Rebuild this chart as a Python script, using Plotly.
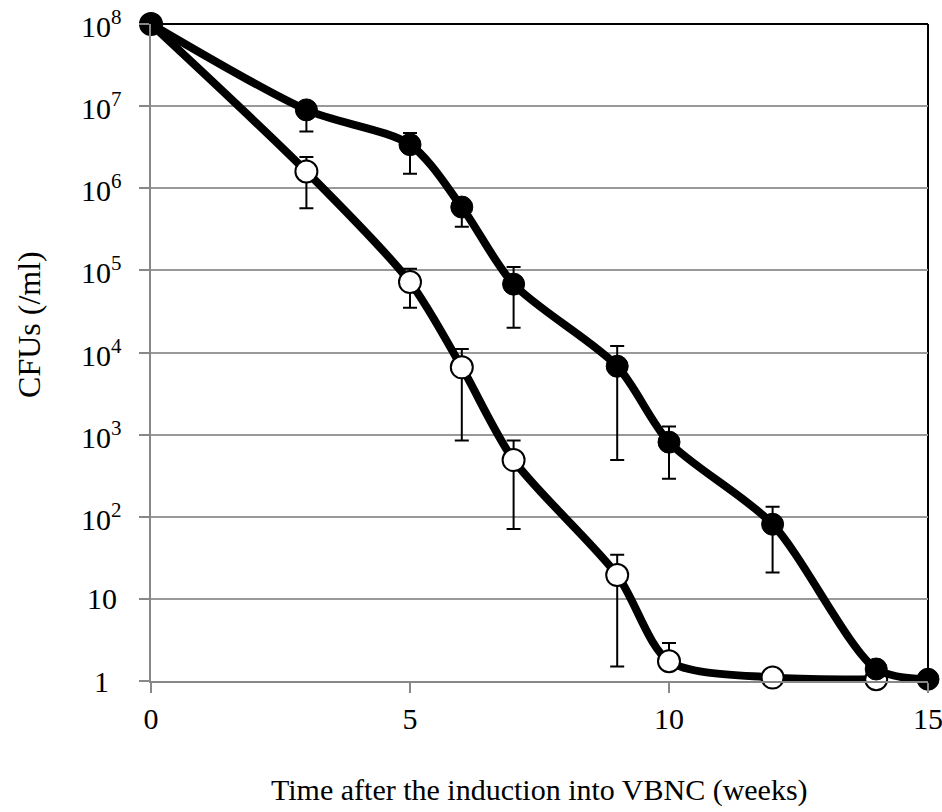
import math
import plotly.graph_objects as go

weeks_filled = [0, 3, 5, 6, 7, 9, 10, 12, 14, 15]
cfu_filled = [1e8, 9e6, 3.4e6, 5.9e5, 6.8e4, 6.8e3, 810, 81, 1.4, 1.05]
err_up_filled = [1e8, 9e6, 4.7e6, 5.9e5, 1.1e5, 1.2e4, 1260, 132, 1.4, 1.05]
err_lo_filled = [1e8, 4.9e6, 1.5e6, 3.4e5, 2.0e4, 490, 290, 21, 1.4, 1.05]

weeks_open = [0, 3, 5, 6, 7, 9, 10, 12, 14]
cfu_open = [1e8, 1.6e6, 7.2e4, 6.6e3, 490, 19.5, 1.74, 1.1, 1.05]
err_up_open = [1e8, 2.4e6, 1.05e5, 1.1e4, 850, 34.5, 2.9, 1.1, 1.05]
err_lo_open = [1e8, 5.7e5, 3.5e4, 850, 71, 1.5, 1.74, 1.1, 1.05]

y_tick_vals = [1, 10, 1e2, 1e3, 1e4, 1e5, 1e6, 1e7, 1e8]
y_tick_text = ["1", "10", "10<sup>2</sup>", "10<sup>3</sup>", "10<sup>4</sup>",
               "10<sup>5</sup>", "10<sup>6</sup>", "10<sup>7</sup>", "10<sup>8</sup>"]
x_tick_vals = [0, 5, 10, 15]
x_title = "Time after the induction into VBNC (weeks)"
y_title = "CFUs (/ml)"

FONT = "Liberation Serif, Times New Roman, serif"
FS = 30

def errs(vals, up, lo):
    plus = [u - v for u, v in zip(up, vals)]
    minus = [v - l for v, l in zip(vals, lo)]
    return plus, minus

fig = go.Figure()

p, m = errs(cfu_open, err_up_open, err_lo_open)
fig.add_trace(go.Scatter(
    x=weeks_open, y=cfu_open, mode="lines+markers",
    line=dict(color="black", width=8, shape="spline", smoothing=0.8),
    marker=dict(size=22, color="white", line=dict(color="black", width=2)),
    error_y=dict(type="data", symmetric=False, array=p, arrayminus=m,
                 color="black", thickness=2, width=7),
    cliponaxis=False, showlegend=False))

p, m = errs(cfu_filled, err_up_filled, err_lo_filled)
fig.add_trace(go.Scatter(
    x=weeks_filled, y=cfu_filled, mode="lines+markers",
    line=dict(color="black", width=8, shape="spline", smoothing=0.8),
    marker=dict(size=22, color="black", line=dict(color="black", width=1)),
    error_y=dict(type="data", symmetric=False, array=p, arrayminus=m,
                 color="black", thickness=2, width=7),
    cliponaxis=False, showlegend=False))

annotations = []
for v, t in zip(y_tick_vals, y_tick_text):
    annotations.append(dict(text=t, xref="paper", yref="y", x=-0.0631, y=math.log10(v),
                            xanchor="center", yanchor="middle", showarrow=False,
                            font=dict(family=FONT, size=FS, color="black")))
annotations.append(dict(text=y_title, xref="paper", yref="paper", x=-0.157, y=0.542,
                        xanchor="center", yanchor="middle", textangle=-90, showarrow=False,
                        font=dict(family=FONT, size=32, color="black")))
annotations.append(dict(text=x_title, xref="paper", yref="paper", x=0.5, y=-0.166,
                        xanchor="center", yanchor="middle", showarrow=False,
                        font=dict(family=FONT, size=FS, color="black")))

fig.update_layout(
    width=942, height=812,
    margin=dict(l=151, r=14, t=24, b=131),
    paper_bgcolor="white", plot_bgcolor="white",
    font=dict(family=FONT, size=FS, color="black"),
    xaxis=dict(range=[0, 15], tickvals=x_tick_vals, ticks="outside", ticklen=10,
               tickcolor="#888888", tickwidth=2, showline=True, linecolor="#888888",
               linewidth=2, showgrid=False, zeroline=False, automargin=False,
               ticklabeloverflow="allow",
               tickfont=dict(family=FONT, size=FS)),
    yaxis=dict(type="log", range=[0, 8], tickvals=y_tick_vals, showticklabels=False,
               ticks="outside", ticklen=10, tickcolor="#888888", tickwidth=2,
               showline=True, linecolor="#888888", linewidth=2, automargin=False,
               showgrid=True, gridcolor="#999999", gridwidth=2, zeroline=False),
    annotations=annotations,
    shapes=[
        dict(type="line", xref="paper", yref="paper", x0=0, x1=1, y0=1, y1=1,
             line=dict(color="black", width=2), layer="below"),
        dict(type="line", xref="paper", yref="paper", x0=1, x1=1, y0=0, y1=1,
             line=dict(color="black", width=2), layer="below"),
    ],
)

fig.write_html("out.html", config={"displayModeBar": False},
               post_script="document.body.style.margin='0';document.body.style.overflow='hidden';")
